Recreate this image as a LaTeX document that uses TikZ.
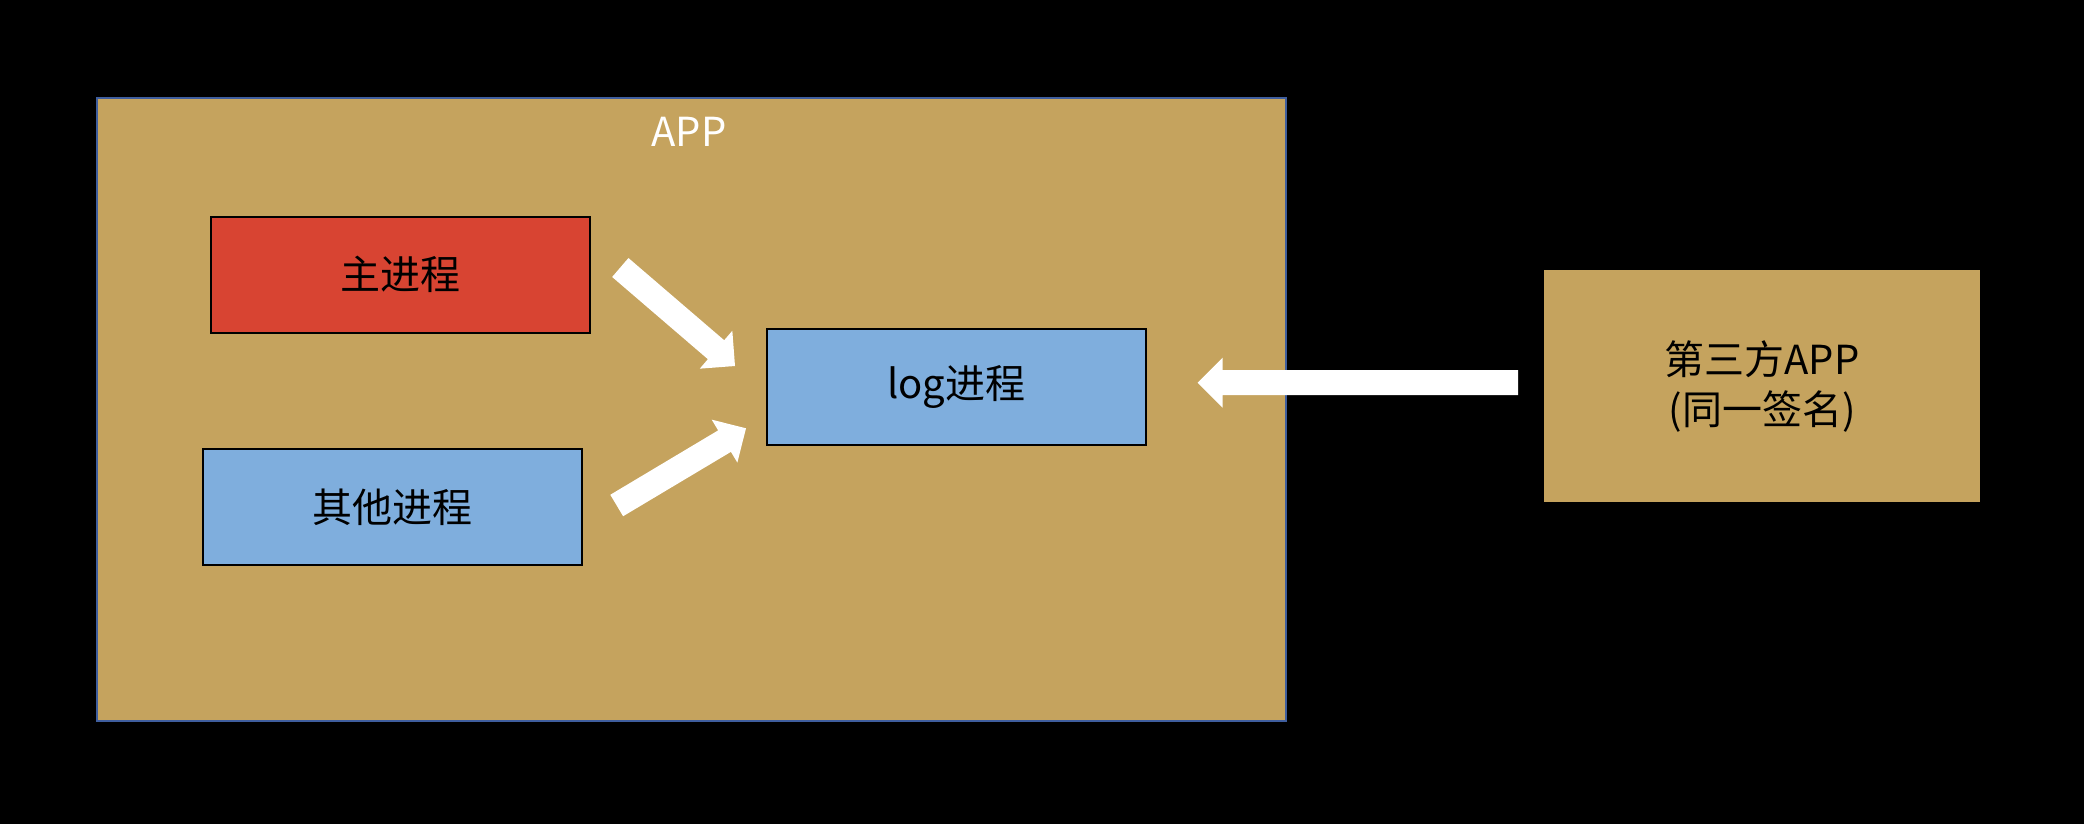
\documentclass[tikz,border=0pt]{standalone}
\usepackage{fontspec}
\setmainfont{Noto Sans CJK SC}
\usetikzlibrary{calc}
\definecolor{tan}{RGB}{197,163,94}
\definecolor{redbox}{RGB}{216,68,50}
\definecolor{bluebox}{RGB}{127,174,221}
\definecolor{appborder}{RGB}{63,94,158}
\newcommand\blockarr[2]{%
  \coordinate (#1h) at ($(#2)!25pt!(#1)$);
  \fill[white] ($(#1)!12.5pt!90:(#2)$) -- ($(#1h)!12.5pt!-90:(#1)$) -- ($(#1h)!25pt!-90:(#1)$) -- (#2)
    -- ($(#1h)!25pt!90:(#1)$) -- ($(#1h)!12.5pt!90:(#1)$) -- ($(#1)!12.5pt!-90:(#2)$) -- cycle;}
\begin{document}
\begin{tikzpicture}[x=1pt,y=-1pt,
  every node/.style={font=\fontsize{40}{50}\selectfont, inner sep=0pt},
  procbox/.style={draw=black, line width=2pt, minimum width=379pt, minimum height=116pt}]
\fill[black] (0,0) rectangle (2084,824);
\useasboundingbox (0,0) rectangle (2084,824);
% outer APP container
\node[draw=appborder, line width=2pt, fill=tan, minimum width=1189pt, minimum height=623pt] (app) at (691,409.5) {};
\node[text=white] (applabel) at (689,131.7) {APP};
% processes
\node[procbox, fill=redbox] (main) at (400,274.7) {主进程};
\node[procbox, fill=bluebox] (other) at (392,507) {其他进程};
\node[procbox, fill=bluebox] (log) at (956.2,387) {log进程};
% third-party app
\node[fill=tan, minimum width=436pt, minimum height=232pt, align=center] (third) at (1762,386) {第三方APP\\(同一签名)};
% block arrows
\coordinate (aone) at (620.3,267.5);
\coordinate (aonetip) at (735,366);
\coordinate (atwo) at (616.7,505.5);
\coordinate (atwotip) at (746,428.3);
\coordinate (athree) at (1518,382.7);
\coordinate (athreetip) at (1197.6,382.7);
\blockarr{aone}{aonetip}
\blockarr{atwo}{atwotip}
\blockarr{athree}{athreetip}
\end{tikzpicture}
\end{document}
